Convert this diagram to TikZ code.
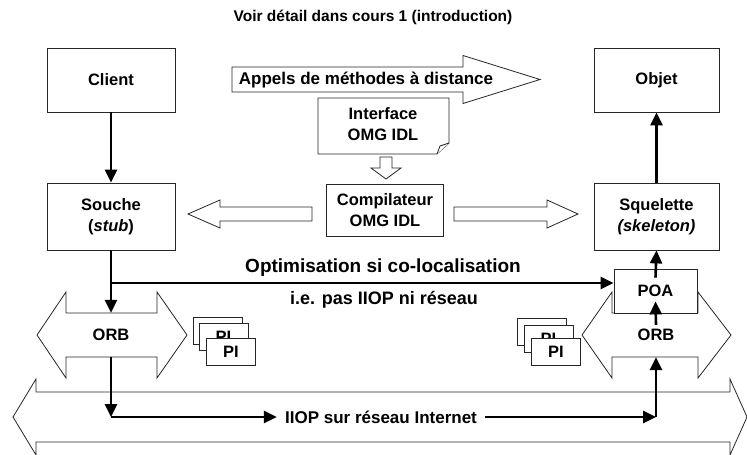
\documentclass[tikz,border=0pt]{standalone}
\usepackage{fontspec}
\setmainfont{Liberation Sans}
\usetikzlibrary{arrows.meta}

\begin{document}
\begin{tikzpicture}[x=1pt,y=-1pt,
		every node/.style={font=\bfseries\fontsize{16.5}{21}\selectfont, align=center, inner sep=0pt},
		box/.style={draw=black!85, line width=0.8pt, fill=white},
		hollow/.style={draw=black!85, line width=0.8pt, fill=white, line join=miter},
		flow/.style={line width=2.6pt, -{Triangle[length=13pt,width=12pt]}}]
	\useasboundingbox (0,0) rectangle (747,455);
	
	% Hollow double arrows: {left tip/left base/right base/right tip/mid y/body half/head half}
	\foreach \lt/\lb/\rb/\rt/\my/\bh/\hh in {13/36/730/747/417/25/38, 37/66/157/187/335/22/43, 582/612/698/731/335/22/43}{
		\filldraw[hollow] (\lt,\my) -- (\lb,\my-\hh) -- (\lb,\my-\bh) -- (\rb,\my-\bh) -- (\rb,\my-\hh) -- (\rt,\my)
			-- (\rb,\my+\hh) -- (\rb,\my+\bh) -- (\lb,\my+\bh) -- (\lb,\my+\hh) -- cycle;
	}
	% Hollow single arrows: {tail/head base/tip/mid y/body half/head half}
	\foreach \ta/\hb/\tp/\my/\bh/\hh in {232/463/540/79.5/12.5/24, 312/220/188/214/7/14, 454/547/578/214/7/14}{
		\filldraw[hollow] (\ta,\my-\bh) -- (\hb,\my-\bh) -- (\hb,\my-\hh) -- (\tp,\my) -- (\hb,\my+\hh) -- (\hb,\my+\bh) -- (\ta,\my+\bh) -- cycle;
	}
	\filldraw[hollow] (380,157) -- (392,157) -- (392,168) -- (401,168) -- (386,179) -- (371,168) -- (380,168) -- cycle;
	
	% Note with folded corner
	\filldraw[hollow] (318,98) -- (449,98) -- (449,143) -- (437,154) -- (318,154) -- cycle;
	\draw[hollow] (449,143) -- (440,146) -- (437,154);
	
	% Texts and boxes
	\node (title) at (373,17) {\fontsize{15.5}{18}\selectfont Voir détail dans cours 1 (introduction)};
	\node[box, minimum width=128pt, minimum height=64pt] (client) at (111,80) {Client};
	\node[box, minimum width=125pt, minimum height=64pt] (objet) at (656.5,80) {Objet};
	\node (appels) at (366,80) {\fontsize{17}{21}\selectfont Appels de méthodes à distance};
	\node (idl) at (383,124) {Interface\\OMG IDL};
	\node[box, minimum width=117pt, minimum height=52pt] (compil) at (385,210) {Compilateur\\OMG IDL};
	\node[box, minimum width=128pt, minimum height=67pt] (souche) at (111,216.5) {Souche\\(\textit{stub})};
	\node[box, minimum width=125pt, minimum height=67pt] (squel) at (656.5,216.5) {Squelette\\\textit{(skeleton)}};
	\node (optim) at (383,268) {\fontsize{19}{22}\selectfont Optimisation si co-localisation};
	\node (iepas) at (384,300) {\fontsize{18}{21}\selectfont i.e. pas IIOP ni réseau};
	\node[box, minimum width=83pt, minimum height=44pt] (poa) at (655.5,291) {POA};
	\node[minimum height=44pt] (orbL) at (111,335) {ORB};
	\node[minimum height=44pt] (orbR) at (656,335) {ORB};
	\node[inner xsep=8pt] (iiop) at (381,417) {\fontsize{17}{21}\selectfont IIOP sur réseau Internet};
	
	% Portable interceptors, stacked
	\foreach \n/\x/\y in {L1/217.5/330.5, L2/223.5/336.5, L3/231/352, R1/542/331.5, R2/548.5/338.5, R3/556/352}{
		\node[box, minimum width=49pt, minimum height=27pt] (pi\n) at (\x,\y) {PI};
	}
	
	% Connectors
	\coordinate (split) at (111,283);
	\coordinate (iiopL) at (111,417);
	\coordinate (iiopR) at (656,417);
	\draw[flow] (client) -- (souche);
	\draw[flow] (squel) -- (objet);
	\draw[flow] (souche.south) -- (orbL.north);
	\draw[flow] (split) -- (split -| poa.west);
	\draw[flow] ([yshift=-12pt]orbR.north) -- ([yshift=12pt]poa.south);
	\draw[flow] ([yshift=-9pt]poa.north) -- (squel.south);
	\draw[flow] (orbL.south) -- (iiopL);
	\draw[flow] (iiopL) -- (iiop.west);
	\draw[flow] (iiop.east) -- (iiopR);
	\draw[flow] (iiopR) -- (orbR.south);
\end{tikzpicture}
\end{document}
